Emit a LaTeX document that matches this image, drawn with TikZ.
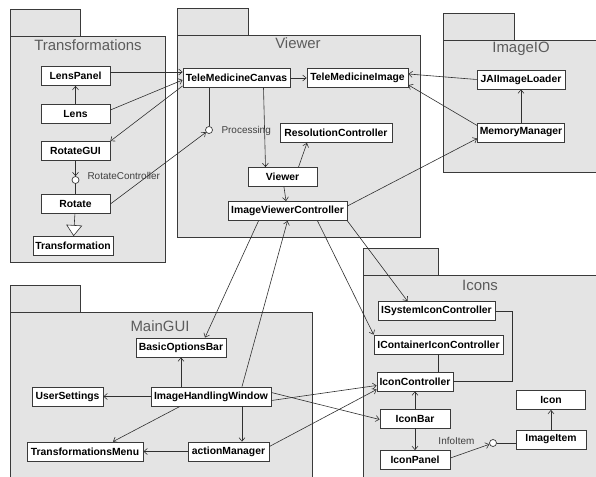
\documentclass[tikz,border=0pt]{standalone}
\usepackage{fontspec}
\setmainfont{Liberation Sans}
\usepackage{xcolor}
\usepackage{tikz}
\usetikzlibrary{calc,arrows.meta}
\definecolor{pkgbg}{HTML}{E4E4E4}
\definecolor{frame}{HTML}{3A3A3A}
\definecolor{wire}{HTML}{303030}
\definecolor{muted}{HTML}{5C5C5C}
\definecolor{labtext}{HTML}{404040}
\tikzset{
  pkg/.style={draw=frame, fill=pkgbg, line width=0.8pt},
  pkgname/.style={text=muted, font=\fontsize{15}{18}\selectfont},
  cls/.style={draw=frame, fill=white, line width=0.8pt, font=\bfseries\fontsize{10.4}{12}\selectfont,
    minimum height=19bp, inner xsep=2bp, inner ysep=0pt},
  iface/.style={circle, draw=frame, fill=white, line width=0.7pt, inner sep=0pt, minimum size=7bp},
  dep/.style={draw=wire, line width=0.6pt, -{Straight Barb[length=3.5bp, width=6bp]}},
  ln/.style={draw=wire, line width=0.6pt},
  gen/.style={draw=wire, line width=0.6pt, -{Triangle[length=11bp, width=16bp, fill=white]}},
  labs/.style={text=labtext, font=\fontsize{10}{12}\selectfont},
}

\begin{document}
\begin{tikzpicture}[x=1bp,y=-1bp]
  \clip (0,0) rectangle (596,477);
  \fill[white] (0,0) rectangle (596,477);

  % packages: left/top/right/bottom/tab width
  \foreach \l/\t/\r/\b/\w in {10/36/165/262/70, 177/35/420/237/71, 443/40/600/172/71,
    10/312/312/480/70, 363/275/600/480/75}{
    \draw[pkg] (\l,\t-27) rectangle (\l+\w,\t);
    \draw[pkg] (\l,\t) rectangle (\r,\b);
  }
  \node[pkgname] (transname) at (88,45) {Transformations};
  \node[pkgname] (viewname) at (298,43) {Viewer};
  \node[pkgname] (ioname) at (521,49) {ImageIO};
  \node[pkgname] (guiname) at (160,326) {MainGUI};
  \node[pkgname] (iconsname) at (480,285) {Icons};

  % Transformations
  \node[cls, minimum width=69bp] (lenspanel) at (75.5,76) {LensPanel};
  \node[cls, minimum width=69bp] (lens) at (75.5,114) {Lens};
  \node[cls, minimum width=69bp] (rotategui) at (75.5,151) {RotateGUI};
  \node[cls, minimum width=69bp] (rotate) at (75.5,204) {Rotate};
  \node[cls, minimum width=80bp] (transformation) at (73,246) {Transformation};
  \node[iface] (rotctrl) at (75.5,180) {};
  \node[labs, anchor=west] (rotctrllab) at (84,176) {RotateController};

  % Viewer
  \node[cls, minimum width=107bp] (canvas) at (236.5,78) {TeleMedicineCanvas};
  \node[cls, minimum width=101bp] (image) at (357.5,78) {TeleMedicineImage};
  \node[cls, minimum width=112bp] (resctrl) at (336,133) {ResolutionController};
  \node[cls, minimum width=69bp] (viewer) at (282.5,177) {Viewer};
  \node[cls, minimum width=119bp] (ivc) at (287.5,211) {ImageViewerController};
  \node[iface] (processing) at (209,130) {};
  \node[labs, anchor=west] (proclab) at (218,131) {Processing};

  % ImageIO
  \node[cls, minimum width=88bp] (jai) at (521,79.5) {JAIImageLoader};
  \node[cls, minimum width=87bp] (memmgr) at (521,132.5) {MemoryManager};

  % MainGUI
  \node[cls, minimum width=90bp] (basicbar) at (181,347.5) {BasicOptionsBar};
  \node[cls, minimum width=71bp] (usersettings) at (67.5,396.5) {UserSettings};
  \node[cls, minimum width=120bp] (ihw) at (211,396.5) {ImageHandlingWindow};
  \node[cls, minimum width=116bp] (transmenu) at (85,451.5) {TransformationsMenu};
  \node[cls, minimum width=81bp] (actmgr) at (228.5,451.5) {actionManager};

  % Icons
  \node[cls, minimum width=117bp] (isys) at (436.5,311) {ISystemIconController};
  \node[cls, minimum width=129bp] (icont) at (438.5,344.5) {IContainerIconController};
  \node[cls, minimum width=76bp] (iconctrl) at (415,381.5) {IconController};
  \node[cls, minimum width=70bp] (iconbar) at (415,418.5) {IconBar};
  \node[cls, minimum width=70bp] (iconpanel) at (415,460) {IconPanel};
  \node[cls, minimum width=69bp] (icon) at (551,400) {Icon};
  \node[cls, minimum width=70bp] (imageitem) at (551,439.5) {ImageItem};
  \node[iface] (infoitem) at (493,443) {};
  \node[labs, anchor=east] (infolab) at (478,441) {InfoItem};

  % connectors
  \draw[dep] (lens) -- (lenspanel);
  \draw[dep] ([yshift=4bp]lenspanel.east) -- ([yshift=4bp]lenspanel.east -| canvas.west);
  \draw[dep] ([yshift=4bp]lens.east) -- ([yshift=-2bp]canvas.west);
  \draw[dep] ([yshift=2bp]canvas.south west) -- (rotategui.north east);
  \draw[dep] (rotategui) -- (rotctrl);
  \draw[ln] (rotctrl) -- (rotate);
  \draw[gen] (rotate) -- (transformation);
  \draw[dep] (rotate.east) -- (processing);

  \draw[dep] (canvas) -- (image);
  \draw[ln] (canvas.south -| processing) -- (processing);
  \draw[dep] ([xshift=27bp]canvas.south) -- ([xshift=-17bp]viewer.north);
  \draw[dep] ([xshift=16bp]viewer.north) -- ([xshift=-29bp]resctrl.south);
  \draw[dep] (viewer) -- (ivc);
  \draw[dep] ([yshift=5bp]ivc.east) -- ([yshift=-6bp]memmgr.west);
  \draw[dep] ([yshift=7bp]memmgr.west) -- ([yshift=-7bp]image.east);
  \draw[dep] (jai.west) -- ([yshift=4bp]image.east);
  \draw[dep] (memmgr) -- (jai);

  \draw[dep] ([xshift=-29bp]ivc.south) -- ([xshift=24bp]basicbar.north);
  \draw[dep] ([xshift=31bp]ihw.north) -- (ivc.south);
  \draw[dep] ([xshift=30bp]ivc.south) -- (icont.north west);
  \draw[dep] (ivc.south east) -- ([xshift=-29bp]isys.north);
  \draw[dep] (ihw.north -| basicbar) -- (basicbar);
  \draw[dep] (ihw) -- (usersettings);
  \draw[dep] ([xshift=-31bp]ihw.south) -- ([xshift=28bp]transmenu.north);
  \draw[dep] ([xshift=31bp]ihw.south) -- ([xshift=31bp]ihw.south |- actmgr.north);
  \draw[dep] (actmgr) -- (transmenu);
  \draw[dep] ([yshift=-4bp]ihw.east) -- ([yshift=-4bp]iconctrl.west);
  \draw[dep] ([yshift=4bp]ihw.east) -- ([yshift=-1bp]iconbar.west);
  \draw[dep] ([yshift=5bp]actmgr.east) -- ([yshift=-8bp]iconctrl.west);

  \draw[dep] (iconbar) -- (iconctrl);
  \draw[dep] (iconbar) -- (iconpanel);
  \draw[ln] (iconctrl.east) -- ++(59,0) |- (isys.east);
  \draw[ln] ([xshift=23bp]iconctrl.north) -- ([xshift=23bp]iconctrl.north |- icont.south);
  \draw[dep] ([yshift=2bp]iconpanel.east) -- (infoitem);
  \draw[ln] (infoitem) -- (infoitem -| imageitem.west);
  \draw[dep] (imageitem) -- (icon);
\end{tikzpicture}
\end{document}
